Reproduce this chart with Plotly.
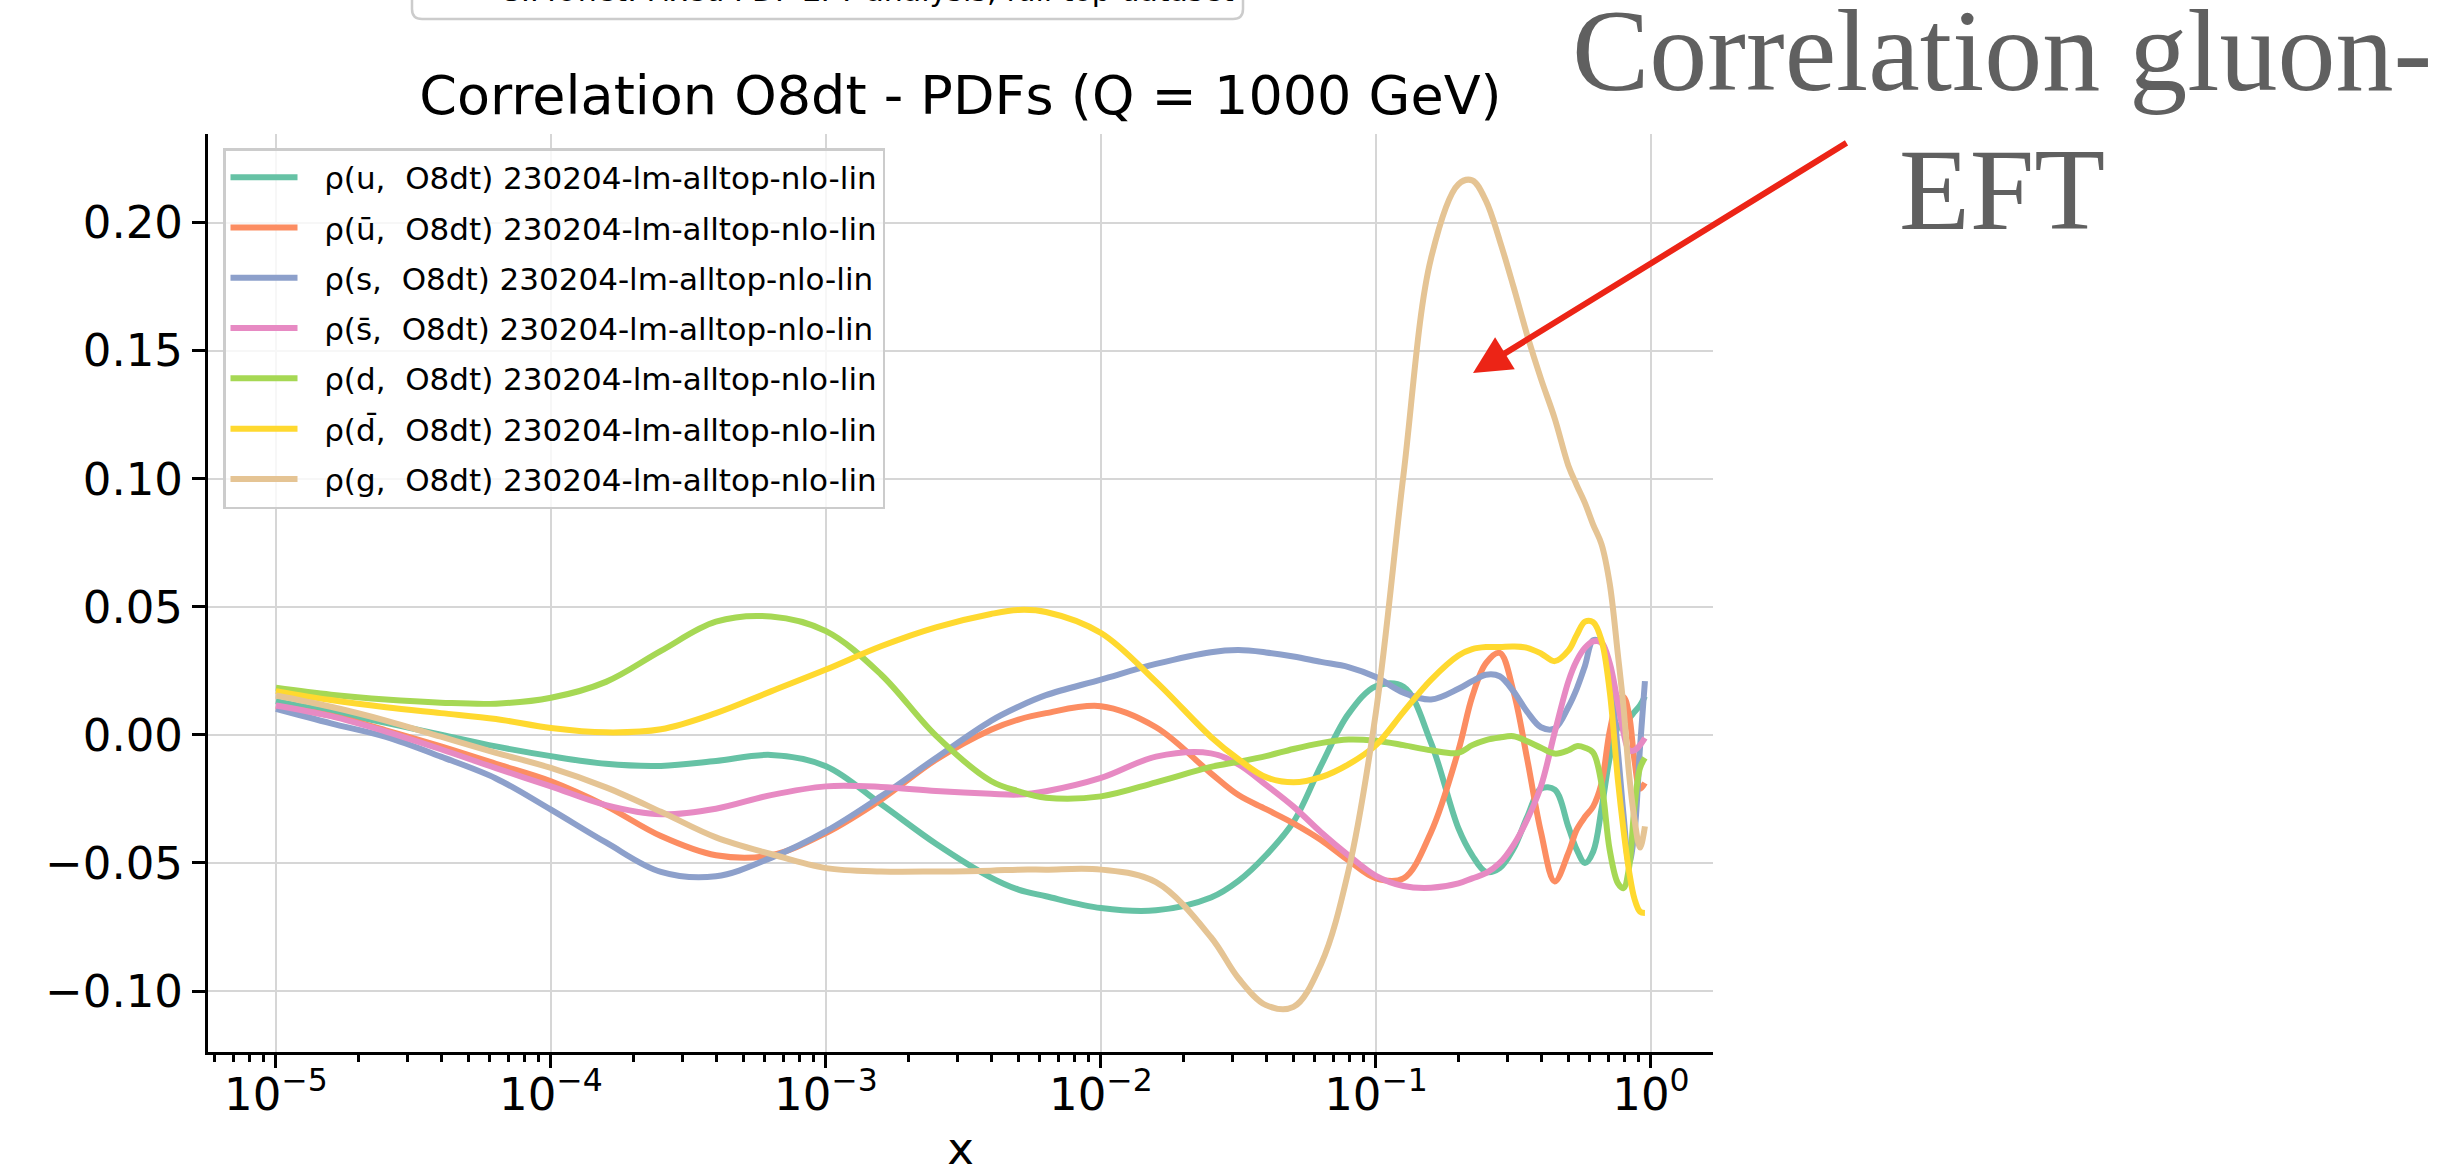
import plotly.graph_objects as go

# x grid (momentum fraction) shared by all correlation curves
x = [1.0e-5, 1.585e-5, 2.512e-5, 3.981e-5, 6.310e-5, 1.0e-4, 1.585e-4, 2.512e-4,
     3.981e-4, 6.310e-4, 1.0e-3, 1.585e-3, 2.512e-3, 3.981e-3, 5.012e-3, 6.310e-3,
     1.0e-2, 1.585e-2, 2.512e-2, 3.162e-2, 3.981e-2, 5.012e-2, 6.310e-2, 7.943e-2,
     0.1, 0.1259, 0.1585, 0.1995, 0.2239, 0.2512, 0.2818, 0.3162, 0.3548, 0.3981,
     0.4467, 0.5012, 0.5370, 0.5754, 0.6166, 0.6607, 0.7079, 0.7586, 0.7943,
     0.8318, 0.8710, 0.9120, 0.9506]

rho_u = [0.0132, 0.0090, 0.0047, 0.0001, -0.0045, -0.0083, -0.0113, -0.0121,
         -0.0102, -0.0078, -0.0122, -0.0270, -0.0425, -0.0557, -0.0604, -0.0630,
         -0.0676, -0.0685, -0.0635, -0.0570, -0.0470, -0.0340, -0.0120, 0.0082,
         0.0190, 0.0188, -0.0030, -0.0365, -0.0470, -0.0535, -0.0520, -0.0445,
         -0.0320, -0.0210, -0.0214, -0.0360, -0.0448, -0.0500, -0.0455, -0.0290,
         -0.0090, 0.0030, 0.0050, 0.0065, 0.0090, 0.0115, 0.0151]

rho_ubar = [0.0112, 0.0075, 0.0018, -0.0045, -0.0113, -0.0181, -0.0277, -0.0395,
            -0.0470, -0.0470, -0.0383, -0.0253, -0.0097, 0.0020, 0.0060, 0.0085,
            0.0112, 0.0030, -0.0150, -0.0235, -0.0290, -0.0345, -0.0410, -0.0490,
            -0.0560, -0.0560, -0.0380, -0.0060, 0.0150, 0.0280, 0.0320, 0.0170,
            -0.0095, -0.0380, -0.0572, -0.0460, -0.0370, -0.0320, -0.0279, -0.0190,
            0.0015, 0.0135, 0.0148, 0.0080, -0.0100, -0.0210, -0.0188]

rho_s = [0.0102, 0.0045, -0.0008, -0.0085, -0.0170, -0.0292, -0.0420, -0.0535,
         -0.0552, -0.0480, -0.0376, -0.0240, -0.0090, 0.0055, 0.0110, 0.0155,
         0.0216, 0.0277, 0.0323, 0.0331, 0.0322, 0.0306, 0.0285, 0.0265,
         0.0226, 0.0165, 0.0138, 0.0180, 0.0210, 0.0235, 0.0229, 0.0170,
         0.0090, 0.0030, 0.0025, 0.0110, 0.0180, 0.0270, 0.0370, 0.0360,
         0.0230, -0.0070, -0.0310, -0.0500, -0.0380, -0.0050, 0.0210]

rho_sbar = [0.0115, 0.0073, 0.0013, -0.0056, -0.0130, -0.0201, -0.0274, -0.0310,
            -0.0288, -0.0235, -0.0201, -0.0203, -0.0219, -0.0230, -0.0233, -0.0220,
            -0.0168, -0.0085, -0.0072, -0.0115, -0.0195, -0.0280, -0.0380, -0.0470,
            -0.0550, -0.0590, -0.0597, -0.0580, -0.0560, -0.0540, -0.0500, -0.0430,
            -0.0330, -0.0200, 0.0010, 0.0210, 0.0290, 0.0340, 0.0365, 0.0360,
            0.0280, 0.0120, 0.0010, -0.0060, -0.0060, -0.0040, -0.0012]

rho_d = [0.0184, 0.0157, 0.0138, 0.0126, 0.0122, 0.0145, 0.0207, 0.0328,
         0.0442, 0.0462, 0.0405, 0.0236, -0.0003, -0.0180, -0.0220, -0.0245,
         -0.0240, -0.0185, -0.0125, -0.0105, -0.0083, -0.0055, -0.0032, -0.0018,
         -0.0023, -0.0040, -0.0060, -0.0070, -0.0040, -0.0020, -0.0010, -0.0005,
         -0.0025, -0.0050, -0.0073, -0.0060, -0.0044, -0.0050, -0.0070, -0.0190,
         -0.0450, -0.0580, -0.0598, -0.0520, -0.0280, -0.0130, -0.0090]

rho_dbar = [0.0171, 0.0136, 0.0108, 0.0085, 0.0062, 0.0027, 0.0010, 0.0022,
            0.0085, 0.0170, 0.0255, 0.0346, 0.0420, 0.0472, 0.0488, 0.0480,
            0.0398, 0.0208, -0.0008, -0.0095, -0.0165, -0.0185, -0.0165, -0.0115,
            -0.0040, 0.0090, 0.0215, 0.0310, 0.0335, 0.0343, 0.0343, 0.0345,
            0.0340, 0.0318, 0.0288, 0.0330, 0.0390, 0.0442, 0.0440, 0.0370,
            0.0170, -0.0180, -0.0370, -0.0530, -0.0640, -0.0690, -0.0695]

rho_g = [0.0154, 0.0110, 0.0056, -0.0007, -0.0070, -0.0129, -0.0205, -0.0300,
         -0.0400, -0.0465, -0.0520, -0.0533, -0.0533, -0.0530, -0.0526, -0.0526,
         -0.0526, -0.0575, -0.0790, -0.0950, -0.1055, -0.1062, -0.0895, -0.0530,
         0.0090, 0.1015, 0.1860, 0.2150, 0.2165, 0.2085, 0.1930, 0.1750,
         0.1560, 0.1390, 0.1235, 0.1050, 0.0975, 0.0905, 0.0820, 0.0745,
         0.0590, 0.0310, 0.0110, -0.0150, -0.0330, -0.0440, -0.0357]

flavours = ["u", "ū", "s", "s\u0304", "d", "d\u0304", "g"]
series = [rho_u, rho_ubar, rho_s, rho_sbar, rho_d, rho_dbar, rho_g]
colors = ["#66c2a5", "#fc8d62", "#8da0cb", "#e78ac3", "#a6d854", "#ffd92f", "#e5c494"]
fit_label = "230204-lm-alltop-nlo-lin"
operator = "O8dt"

title_text = "Correlation O8dt - PDFs (Q = 1000 GeV)"
note_lines = ["Correlation gluon-", "EFT"]
prev_legend_text = "SIMUnet: Fixed PDF EFT analysis, full top dataset"

y_ticks = [-0.10, -0.05, 0.00, 0.05, 0.10, 0.15, 0.20]
y_ticktext = ["\u22120.10", "\u22120.05", "0.00", "0.05", "0.10", "0.15", "0.20"]
x_ticks = [1e-5, 1e-4, 1e-3, 1e-2, 1e-1, 1e0]
x_ticktext = ["10<sup>\u22125</sup>", "10<sup>\u22124</sup>", "10<sup>\u22123</sup>",
              "10<sup>\u22122</sup>", "10<sup>\u22121</sup>", "10<sup>0</sup>"]

W, H = 2449, 1175
L, R, T, B = 208, 1713, 134, 1052  # plot area in pixels
PW, PH = R - L, B - T


def px(xp):
    return (xp - L) / PW


def py(yp):
    return (B - yp) / PH


fig = go.Figure()
for i, (fl, vals, col) in enumerate(zip(flavours, series, colors)):
    fig.add_trace(go.Scatter(
        x=x, y=vals, mode="lines",
        # en + thin space keep the label clear of the legend line
        name=f"\u2002\u2009\u03c1({fl},\u00a0 {operator}) {fit_label}",
        legendgroup=f"g{i}",
        line=dict(color=col, width=6, shape="spline", smoothing=1.0),
    ))

minor_vals = [m * 10.0 ** e for e in range(-6, 0) for m in range(2, 10)]

axis_common = dict(
    showline=True, linecolor="black", linewidth=3, mirror=False,
    ticks="outside", ticklen=13, tickwidth=3, tickcolor="black",
    showgrid=True, gridcolor="#d6d6d6", gridwidth=2, zeroline=False,
    tickfont=dict(size=45, color="black", family="DejaVu Sans"),
    automargin=False,
)

fig.update_xaxes(
    type="log", range=[-5.247, 0.2255],
    tickmode="array", tickvals=x_ticks, ticktext=x_ticktext,
    ticklabelstandoff=-12,
    minor=dict(tickmode="array", tickvals=minor_vals, ticks="outside",
               ticklen=7, tickwidth=2.5, tickcolor="black", showgrid=False),
    title=dict(text="x", font=dict(size=45, color="black", family="DejaVu Sans"), standoff=28),
    **axis_common,
)
fig.update_yaxes(
    range=[-0.1238, 0.2346],
    tickmode="array", tickvals=y_ticks, ticktext=y_ticktext,
    ticklabelstandoff=0,
    **axis_common,
)

# rounded-bottom box of the legend belonging to the panel above
x0, x1 = px(412), px(1243)
yb, yt = py(19), py(-30)
rx, ry = 10 / PW, 10 / PH
box_path = (f"M{x0},{yt} L{x0},{yb + ry} Q{x0},{yb} {x0 + rx},{yb} "
            f"L{x1 - rx},{yb} Q{x1},{yb} {x1},{yb + ry} L{x1},{yt} Z")

note_font = dict(size=116, color="#606060", family="Liberation Serif")
note_annotations = [
    dict(text=line, x=px(2002), y=py(yc), xref="paper", yref="paper",
         xanchor="center", yanchor="middle", showarrow=False, font=note_font)
    for line, yc in zip(note_lines, [51, 190])
]

fig.update_layout(
    width=W, height=H, autosize=False, template="none",
    margin=dict(l=L, r=W - R, t=T, b=H - B, pad=0),
    paper_bgcolor="white", plot_bgcolor="white",
    font=dict(family="DejaVu Sans", color="black"),
    title=dict(text=title_text, x=0.5, xref="paper", xanchor="center",
               y=1 - 95 / H, yref="container", yanchor="middle",
               font=dict(size=54, color="black", family="DejaVu Sans")),
    legend=dict(
        x=px(223), y=py(148), xanchor="left", yanchor="top",
        bgcolor="rgba(255,255,255,0.8)", bordercolor="#cccccc", borderwidth=2.5,
        font=dict(size=31, color="black", family="DejaVu Sans"),
        itemwidth=67, traceorder="grouped", tracegroupgap=7,
    ),
    shapes=[dict(type="path", path=box_path, xref="paper", yref="paper",
                 line=dict(color="#cccccc", width=2.5), fillcolor="white", layer="above")],
    annotations=[
        dict(text=prev_legend_text, x=px(500), y=py(-9.5), xref="paper", yref="paper",
             xanchor="left", yanchor="middle", showarrow=False,
             font=dict(size=30, color="black", family="DejaVu Sans")),
        *note_annotations,
        dict(text="", x=px(1473), y=py(373), xref="paper", yref="paper",
             ax=1848 - 1473, ay=142 - 373, showarrow=True,
             arrowhead=2, arrowsize=1.25, arrowwidth=6, arrowcolor="#ec2416", standoff=0),
    ],
)

fig.write_html("out.html")
